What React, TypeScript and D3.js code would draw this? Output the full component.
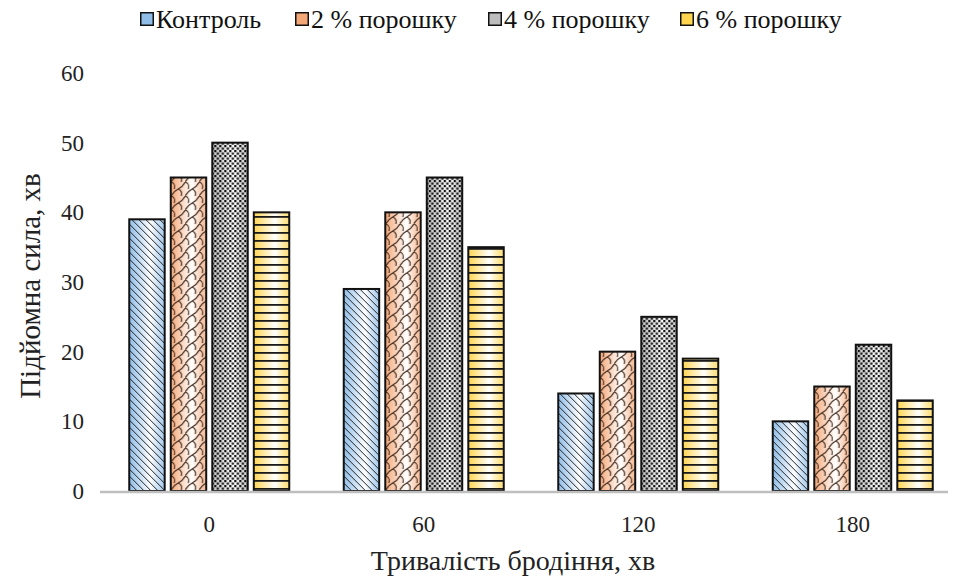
import React from "react";
import * as d3 from "d3";

// Fermentation time (min) and dough lifting force (min) per powder dosage
const categories = ["0", "60", "120", "180"];
const seriesNames = ["Контроль", "2 % порошку", "4 % порошку", "6 % порошку"];
const control = [39, 29, 14, 10];
const powder2 = [45, 40, 20, 15];
const powder4 = [50, 45, 25, 21];
const powder6 = [40, 35, 19, 13];
const yTicks = [0, 10, 20, 30, 40, 50, 60];

const seriesValues = [control, powder2, powder4, powder6];
const baseColors = ["#8fbde8", "#f4a878", "#bdbdbd", "#ffd54f"];
const patternIds = ["pat-diag", "pat-shingle", "pat-check", "pat-horiz"];

const W = 953;
const H = 578;
const FONT = "'Liberation Serif', 'Times New Roman', serif";

export default function App() {
  const x0 = d3.scaleBand<string>().domain(categories).range([102, 960]).padding(0);
  const groupW = 160;
  const x1 = d3
    .scaleBand<string>()
    .domain(seriesNames)
    .range([0, groupW])
    .paddingInner(6 / 41);
  const y = d3.scaleLinear().domain([0, 60]).range([491, 73]);

  const legendX = [140, 295, 488, 680];

  return (
    <svg
      width={W}
      height={H}
      style={{ position: "absolute", left: 0, top: 0, background: "#fff", fontFamily: FONT }}
    >
      <defs>
        {baseColors.map((c, i) => (
          <linearGradient key={i} id={`grad-${i}`} x1="0" y1="0" x2="1" y2="0">
            <stop offset="0%" stopColor={c} />
            <stop offset="60%" stopColor="#ffffff" />
            <stop offset="100%" stopColor={c} stopOpacity={0.8} />
          </linearGradient>
        ))}
        <pattern id="pat-diag" width="7" height="7" patternUnits="userSpaceOnUse">
          <path d="M-1,-1 L8,8 M-1,6 L1,8 M6,-1 L8,1" stroke="#222" strokeWidth={1} />
        </pattern>
        <pattern id="pat-shingle" width="14" height="14" patternUnits="userSpaceOnUse">
          <path
            d="M0,14 C2,10 5,8 7,7 C9,6 12,4 14,0 M7,7 C10,8 11,11 10,14 M0,0 C3,1 4,4 3,7"
            fill="none"
            stroke="#3a2418"
            strokeWidth={1.1}
          />
        </pattern>
        <pattern id="pat-check" width="5" height="5" patternUnits="userSpaceOnUse">
          <rect x="0" y="0" width="2.2" height="2.2" fill="#111" />
          <rect x="2.5" y="2.5" width="2.2" height="2.2" fill="#111" />
        </pattern>
        <pattern id="pat-horiz" width="6" height="8" patternUnits="userSpaceOnUse">
          <rect x="0" y="0" width="6" height="1.8" fill="#1a1a1a" />
        </pattern>
      </defs>

      {/* Legend */}
      {seriesNames.map((name, i) => (
        <g key={name} transform={`translate(${legendX[i]},0)`}>
          <rect x={0} y={12} width={14} height={14} fill={baseColors[i]} />
          <rect x={0.75} y={12.75} width={12.5} height={12.5} fill="none" stroke="#111" strokeWidth={1.5} />
          <text x={16} y={28} fontSize={26} fill="#111" style={{ fontFamily: FONT }}>
            {name}
          </text>
        </g>
      ))}

      {/* Y tick labels */}
      {yTicks.map((t) => (
        <text key={t} x={84} y={y(t) + 8} fontSize={23} textAnchor="end" fill="#222" style={{ fontFamily: FONT }}>
          {t}
        </text>
      ))}

      {/* Bars */}
      {categories.map((cat, ci) => {
        const gx = x0(cat)! + x0.bandwidth() / 2 - groupW / 2;
        return (
          <g key={cat} transform={`translate(${gx},0)`}>
            {seriesNames.map((name, si) => {
              const v = seriesValues[si][ci];
              const bx = x1(name)!;
              const bw = x1.bandwidth();
              const by = y(v);
              const bh = y(0) - by;
              return (
                <g key={name}>
                  <rect x={bx} y={by} width={bw} height={bh} fill={`url(#grad-${si})`} />
                  <rect x={bx} y={by} width={bw} height={bh} fill={`url(#${patternIds[si]})`} />
                  <rect
                    x={bx}
                    y={by}
                    width={bw}
                    height={bh}
                    fill="none"
                    stroke="#111"
                    strokeWidth={2}
                  />
                </g>
              );
            })}
          </g>
        );
      })}

      {/* X axis line */}
      <line x1={100} x2={948} y1={y(0) + 1} y2={y(0) + 1} stroke="#bfbfbf" strokeWidth={2.5} />

      {/* X tick labels */}
      {categories.map((cat) => (
        <text
          key={cat}
          x={x0(cat)! + x0.bandwidth() / 2}
          y={532}
          fontSize={23}
          textAnchor="middle"
          fill="#222"
          style={{ fontFamily: FONT }}
        >
          {cat}
        </text>
      ))}

      {/* Axis titles */}
      <text x={513} y={570} fontSize={28} textAnchor="middle" fill="#222" style={{ fontFamily: FONT }}>
        Тривалість бродіння, хв
      </text>
      <text
        transform={`translate(40,286) rotate(-90)`}
        fontSize={29}
        textAnchor="middle"
        fill="#222"
        style={{ fontFamily: FONT }}
      >
        Підйомна сила, хв
      </text>
    </svg>
  );
}
